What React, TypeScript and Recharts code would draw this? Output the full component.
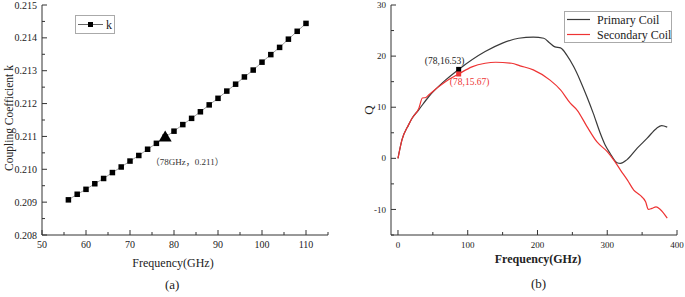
import React from 'react';
import { LineChart, Line, XAxis, YAxis, Legend, ReferenceDot } from 'recharts';

// (a) coupling coefficient vs frequency
const kFreq = [56, 58, 60, 62, 64, 66, 68, 70, 72, 74, 76, 78, 80, 82, 84, 86, 88, 90, 92, 94, 96, 98, 100, 102, 104, 106, 108, 110];
const kValues = [
  0.20907, 0.20924, 0.20939, 0.20956, 0.20972, 0.2099, 0.21007, 0.21025, 0.21042, 0.21061, 0.21079, 0.21098,
  0.21116, 0.21136, 0.21155, 0.21175, 0.21196, 0.21216, 0.21238, 0.21259, 0.21281, 0.21302, 0.21326, 0.21349,
  0.21371, 0.21396, 0.2142, 0.21444,
];
const kMarker = { freq: 78, k: 0.211, label: '（78GHz，0.211）' };
const kXTicks = [50, 55, 60, 65, 70, 75, 80, 85, 90, 95, 100, 105, 110, 115];
const kXLabels = [50, 60, 70, 80, 90, 100, 110];
const kYTicks = [0.208, 0.2085, 0.209, 0.2095, 0.21, 0.2105, 0.211, 0.2115, 0.212, 0.2125, 0.213, 0.2135, 0.214, 0.2145, 0.215];
const kYLabels = [0.208, 0.209, 0.21, 0.211, 0.212, 0.213, 0.214, 0.215];

// (b) Q vs frequency
const primaryFreq = [0, 5.7, 15, 20, 29.5, 44, 68, 87, 125, 149, 173, 194, 209, 218, 225, 233, 242, 252, 261, 271, 280, 290, 297, 304, 314, 319, 328, 343, 357, 371, 378, 386];
const primaryQ = [0, 3.6, 6.5, 7.8, 9.45, 12.05, 15.3, 17.4, 20.9, 22.5, 23.5, 23.7, 23.5, 22.5, 21.8, 21.6, 20.2, 17.9, 15.3, 12.0, 8.8, 4.9, 2.6, 1.0, -0.85, -1.0, -0.3, 2.0, 3.9, 5.9, 6.4, 6.1];
const secondaryFreq = [0, 5.7, 15, 20, 30, 35, 40, 44, 68, 87, 106, 125, 140, 163, 175, 194, 218, 233, 247, 257, 271, 285, 300, 311, 319, 329, 338, 347, 355, 359, 364, 370, 376, 386];
const secondaryQ = [0, 3.6, 6.5, 7.8, 9.8, 11.8, 11.9, 12.4, 15.0, 16.5, 17.9, 18.6, 18.8, 18.6, 18.1, 17.3, 15.3, 13.4, 10.8, 9.4, 6.2, 3.25, 1.3, -0.65, -2.3, -4.25, -6.2, -7.2, -8.5, -10, -9.8, -9.5, -10, -11.7];
const primaryMark = { freq: 87, q: 17.4, label: '(78,16.53)' };
const secondaryMark = { freq: 87, q: 16.5, label: '(78,15.67)' };
const qXTicks = [0, 50, 100, 150, 200, 250, 300, 350, 400];
const qXLabels = [0, 100, 200, 300, 400];
const qYTicks = [-15, -10, -5, 0, 5, 10, 15, 20, 25, 30];
const qYLabels = [-10, 0, 10, 20, 30];

const kData = kFreq.map((f, i) => ({ f, k: kValues[i] }));
const primaryData = primaryFreq.map((f, i) => ({ f, q: primaryQ[i] }));
const secondaryData = secondaryFreq.map((f, i) => ({ f, q: secondaryQ[i] }));

const serif = '"Liberation Serif", "Times New Roman", serif';
const axisColor = '#333';

const inList = (list: number[]) => (v: number) => list.some((m) => Math.abs(m - v) < 1e-7);

const makeXTick = (isMajor: (v: number) => boolean, fmt: (v: number) => string, fontSize: number) => (props: any) => {
  const { x, y, payload } = props;
  const major = isMajor(payload.value);
  return (
    <g>
      <line x1={x} x2={x} y1={y} y2={y - (major ? 5 : 3)} stroke={axisColor} />
      {major && (
        <text x={x} y={y + 13} textAnchor="middle" fontSize={fontSize} fontFamily={serif} fill="#222">
          {fmt(payload.value)}
        </text>
      )}
    </g>
  );
};

const makeYTick = (isMajor: (v: number) => boolean, fmt: (v: number) => string, fontSize: number) => (props: any) => {
  const { x, y, payload } = props;
  const major = isMajor(payload.value);
  return (
    <g>
      <line x1={x} x2={x + (major ? 5 : 3)} y1={y} y2={y} stroke={axisColor} />
      {major && (
        <text x={x - 5} y={y} dy="0.35em" textAnchor="end" fontSize={fontSize} fontFamily={serif} fill="#222">
          {fmt(payload.value)}
        </text>
      )}
    </g>
  );
};

const squareDot = (size: number, fill: string) => (p: any) => (
  <rect key={`d-${p.index}`} x={p.cx - size / 2} y={p.cy - size / 2} width={size} height={size} fill={fill} />
);

function KLegend() {
  return (
    <svg width={40} height={19} style={{ display: 'block' }}>
      <rect x={0.5} y={0.5} width={39} height={18} fill="#fff" stroke="#aaa" />
      <line x1={3} x2={28} y1={9.5} y2={9.5} stroke="#666" />
      <rect x={13} y={7} width={5} height={5} fill="#000" />
      <text x={31} y={13.5} fontSize={12} fontFamily={serif} fill="#222">k</text>
    </svg>
  );
}

function QLegend() {
  return (
    <svg width={108} height={32} style={{ display: 'block' }}>
      <rect x={0.5} y={0.5} width={107} height={31} fill="#fff" stroke="#aaa" />
      <line x1={3} x2={26} y1={8.5} y2={8.5} stroke="#3a3a3a" strokeWidth={1.2} />
      <line x1={3} x2={26} y1={23.5} y2={23.5} stroke="#ee3333" strokeWidth={1.2} />
      <text x={33} y={12.5} fontSize={12} fontFamily={serif} fill="#222">Primary Coil</text>
      <text x={33} y={27.5} fontSize={12} fontFamily={serif} fill="#222">Secondary Coil</text>
    </svg>
  );
}

function KChart() {
  return (
    <LineChart width={340} height={297} data={kData} margin={{ top: 5, right: 12, bottom: 0, left: 0 }}>
      <XAxis
        dataKey="f"
        type="number"
        domain={[50, 115]}
        ticks={kXTicks}
        interval={0}
        height={62}
        tickSize={0}
        tickMargin={0}
        tickLine={false}
        axisLine={{ stroke: axisColor }}
        tick={makeXTick(inList(kXLabels), (v) => String(v), 10)}
        label={{
          content: (p: any) => (
            <text x={p.viewBox.x + p.viewBox.width / 2 - 12} y={p.viewBox.y + 32} textAnchor="middle" fontSize={12} fontFamily={serif} fill="#222">
              Frequency(GHz)
            </text>
          ),
        }}
      />
      <XAxis xAxisId="top" orientation="top" type="number" domain={[50, 115]} height={0} tick={false} tickLine={false} axisLine={{ stroke: axisColor }} />
      <YAxis
        dataKey="k"
        type="number"
        domain={[0.208, 0.215]}
        ticks={kYTicks}
        interval={0}
        width={42}
        tickSize={0}
        tickMargin={0}
        tickLine={false}
        axisLine={{ stroke: axisColor }}
        tick={makeYTick(inList(kYLabels), (v) => v.toFixed(3), 10)}
        label={{
          content: (p: any) => {
            const cx = 9;
            const cy = p.viewBox.y + p.viewBox.height / 2 - 2;
            return (
              <text x={cx} y={cy} transform={`rotate(-90 ${cx} ${cy})`} textAnchor="middle" dominantBaseline="central" fontSize={11.5} fontFamily={serif} fill="#222">
                Coupling Coefficient k
              </text>
            );
          },
        }}
      />
      <YAxis yAxisId="right" orientation="right" type="number" domain={[0.208, 0.215]} width={0} tick={false} tickLine={false} axisLine={{ stroke: axisColor }} />
      <Legend layout="vertical" align="center" verticalAlign="middle" content={() => <KLegend />} wrapperStyle={{ left: 75, top: 15, width: 'auto' }} />
      <Line dataKey="k" stroke="#888" strokeWidth={0.8} dot={squareDot(5.5, '#000')} isAnimationActive={false} />
      <ReferenceDot
        x={kMarker.freq}
        y={kMarker.k}
        shape={(p: any) => (
          <g>
            <polygon points={`${p.cx - 6.5},${p.cy + 5} ${p.cx + 6.5},${p.cy + 5} ${p.cx},${p.cy - 6}`} fill="#000" />
            <text x={p.cx + 22} y={p.cy + 29} textAnchor="middle" fontSize={9} fontFamily={`${serif}, "Noto Sans CJK SC"`} fill="#333">
              {kMarker.label}
            </text>
          </g>
        )}
      />
    </LineChart>
  );
}

function QChart() {
  return (
    <LineChart width={342} height={297} margin={{ top: 5, right: 8, bottom: 0, left: 0 }}>
      <XAxis
        dataKey="f"
        type="number"
        domain={[-10, 400]}
        ticks={qXTicks}
        interval={0}
        height={62}
        tickSize={0}
        tickMargin={0}
        tickLine={false}
        allowDataOverflow
        axisLine={{ stroke: axisColor }}
        tick={makeXTick(inList(qXLabels), (v) => String(v), 9)}
        label={{
          content: (p: any) => (
            <text x={p.viewBox.x + p.viewBox.width / 2 + 4} y={p.viewBox.y + 28} textAnchor="middle" fontSize={12} fontWeight="bold" fontFamily={serif} fill="#222">
              Frequency(GHz)
            </text>
          ),
        }}
      />
      <XAxis xAxisId="top" orientation="top" type="number" domain={[-10, 400]} height={0} tick={false} tickLine={false} axisLine={{ stroke: axisColor }} />
      <YAxis
        dataKey="q"
        type="number"
        domain={[-15, 30]}
        ticks={qYTicks}
        interval={0}
        width={48}
        tickSize={0}
        tickMargin={0}
        tickLine={false}
        allowDataOverflow
        axisLine={{ stroke: axisColor }}
        tick={makeYTick(inList(qYLabels), (v) => String(v), 9)}
        label={{
          content: (p: any) => {
            const cx = 25;
            const cy = p.viewBox.y + p.viewBox.height / 2 - 10;
            return (
              <text x={cx} y={cy} transform={`rotate(-90 ${cx} ${cy})`} textAnchor="middle" dominantBaseline="central" fontSize={13} fontFamily={serif} fill="#222">
                Q
              </text>
            );
          },
        }}
      />
      <YAxis yAxisId="right" orientation="right" type="number" domain={[-15, 30]} width={0} tick={false} tickLine={false} axisLine={{ stroke: axisColor }} />
      <Legend layout="vertical" align="center" verticalAlign="middle" content={() => <QLegend />} wrapperStyle={{ left: 221, top: 11, width: 'auto' }} />
      <Line data={primaryData} dataKey="q" type="monotone" stroke="#3a3a3a" strokeWidth={1.2} dot={false} isAnimationActive={false} />
      <Line data={secondaryData} dataKey="q" type="monotone" stroke="#ee3333" strokeWidth={1.2} dot={false} isAnimationActive={false} />
      <ReferenceDot
        x={primaryMark.freq}
        y={primaryMark.q}
        shape={(p: any) => (
          <g>
            <rect x={p.cx - 2.5} y={p.cy - 2.5} width={5} height={5} fill="#000" />
            <text x={p.cx - 14} y={p.cy - 5} textAnchor="middle" fontSize={9.5} fontFamily={serif} fill="#222">
              {primaryMark.label}
            </text>
          </g>
        )}
      />
      <ReferenceDot
        x={secondaryMark.freq}
        y={secondaryMark.q}
        shape={(p: any) => (
          <g>
            <rect x={p.cx - 2.5} y={p.cy - 2.5} width={5} height={5} fill="#ee3333" />
            <text x={p.cx + 11} y={p.cy + 11} textAnchor="middle" fontSize={9.5} fontFamily={serif} fill="#ee3333">
              {secondaryMark.label}
            </text>
          </g>
        )}
      />
    </LineChart>
  );
}

export default function App() {
  return (
    <div style={{ position: 'absolute', left: 0, top: 0, width: 685, height: 297, background: '#fff', fontFamily: serif }}>
      <div style={{ position: 'absolute', left: 0, top: 0 }}>
        <KChart />
      </div>
      <div style={{ position: 'absolute', left: 343, top: 0 }}>
        <QChart />
      </div>
      <div style={{ position: 'absolute', left: 165, top: 277, fontSize: 13, color: '#222' }}>(a)</div>
      <div style={{ position: 'absolute', left: 531, top: 276, fontSize: 13, color: '#222' }}>(b)</div>
    </div>
  );
}
